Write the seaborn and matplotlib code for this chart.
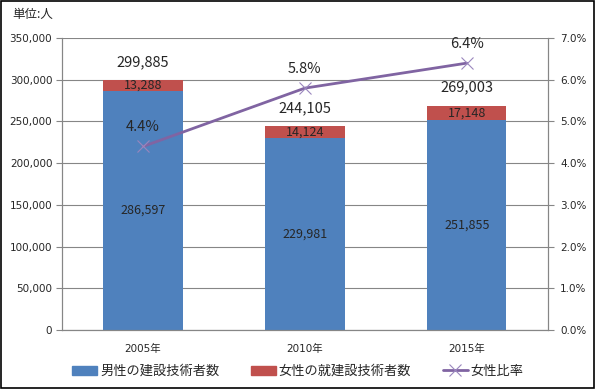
import matplotlib
matplotlib.use('Agg')
import matplotlib.pyplot as plt
from matplotlib.patches import Patch
from matplotlib.lines import Line2D
from matplotlib.ticker import FuncFormatter
import pandas as pd
import seaborn as sns

years = ['2005年', '2010年', '2015年']
male = [286597, 229981, 251855]
female = [13288, 14124, 17148]
total = [299885, 244105, 269003]
ratio = [4.4, 5.8, 6.4]

sns.set_style('white')
plt.rcParams['font.family'] = ['Noto Sans CJK JP', 'DejaVu Sans']
tick_font = ['DejaVu Sans', 'Noto Sans CJK JP']

df = pd.DataFrame({'year': years, 'male': male, 'female': female, 'total': total, 'ratio': ratio})

fig = plt.figure(figsize=(5.96, 3.89), dpi=100)
ax = fig.add_axes([0.104, 0.152, 0.815, 0.750])

blue = '#4F81BD'
red = '#C0504D'
purple = '#8064A2'
grid_c = '#868686'

ax.set_axisbelow(True)
ax.yaxis.grid(True, color=grid_c, linewidth=0.8)
sns.barplot(data=df, x='year', y='total', color=red, width=0.49, saturation=1,
            linewidth=0, edgecolor='none', ax=ax)
sns.barplot(data=df, x='year', y='male', color=blue, width=0.49, saturation=1,
            linewidth=0, edgecolor='none', ax=ax)
ax.set_xlim(-0.5, 2.5)
ax.set_ylim(0, 350000)
ax.set_yticks(range(0, 350001, 50000))
ax.yaxis.set_major_formatter(FuncFormatter(lambda v, p: f'{int(v):,}'))
ax.set_xlabel('')
ax.set_ylabel('')
ax.set_xticks([0, 1, 2])
ax.set_xticklabels(years)
ax.set_xticks([-0.5, 0.5, 1.5, 2.5], minor=True)
ax.tick_params(axis='x', which='major', length=0, pad=10)
ax.tick_params(axis='x', which='minor', length=4, color=grid_c, direction='out')
ax.tick_params(axis='y', length=4, color=grid_c, direction='out', pad=3)
for lab in ax.get_xticklabels() + ax.get_yticklabels():
    lab.set_fontfamily(tick_font)
    lab.set_fontsize(7.5)
for s in ['left', 'bottom', 'right']:
    ax.spines[s].set_color(grid_c)
ax.spines['top'].set_visible(False)

for i in range(3):
    ax.text(i, male[i] / 2, f'{male[i]:,}', ha='center', va='center', fontsize=9)
    ax.text(i, male[i] + female[i] / 2, f'{female[i]:,}', ha='center', va='center', fontsize=9)
    ax.annotate(f'{total[i]:,}', (i, total[i]), xytext=(0, 13), textcoords='offset points',
                ha='center', va='center', fontsize=10.5)

ax2 = ax.twinx()
ax2.set_position([0.104, 0.152, 0.815, 0.750])
ax2.plot([0, 1, 2], df['ratio'], color=purple, linewidth=2, marker='x', markersize=8,
         markeredgewidth=0.8, markeredgecolor='#9A86BE')
ax2.set_ylim(0, 7)
ax2.set_yticks(range(0, 8))
ax2.yaxis.set_major_formatter(FuncFormatter(lambda v, p: f'{v:.1f}%'))
ax2.tick_params(axis='y', length=4, color=grid_c, direction='out', pad=5)
for lab in ax2.get_yticklabels():
    lab.set_fontfamily(tick_font)
    lab.set_fontsize(7.5)
for s in ['left', 'bottom', 'right']:
    ax2.spines[s].set_color(grid_c)
ax2.spines['top'].set_visible(False)
for i in range(3):
    ax2.annotate(f'{ratio[i]:.1f}%', (i, ratio[i]), xytext=(0, 14), textcoords='offset points',
                 ha='center', va='center', fontsize=10.5)

fig.text(0.02, 0.963, '単位:人', fontsize=9, ha='left', va='center')

handles = [Patch(color=blue), Patch(color=red),
           Line2D([0], [0], color=purple, linewidth=2, marker='x', markersize=8,
                  markeredgewidth=0.8, markeredgecolor='#9A86BE')]
labels = ['男性の建設技術者数', '女性の就建設技術者数', '女性比率']
fig.legend(handles, labels, loc='center', bbox_to_anchor=(0.5, 0.045), ncol=3, frameon=False,
           fontsize=9.5, handlelength=1.9, handletextpad=0.2, columnspacing=2.4)

fig.patches.append(plt.Rectangle((0.002, 0.003), 0.995, 0.994, transform=fig.transFigure,
                                 fill=False, edgecolor='black', linewidth=1.2))

fig.savefig('out.png', dpi=100)
